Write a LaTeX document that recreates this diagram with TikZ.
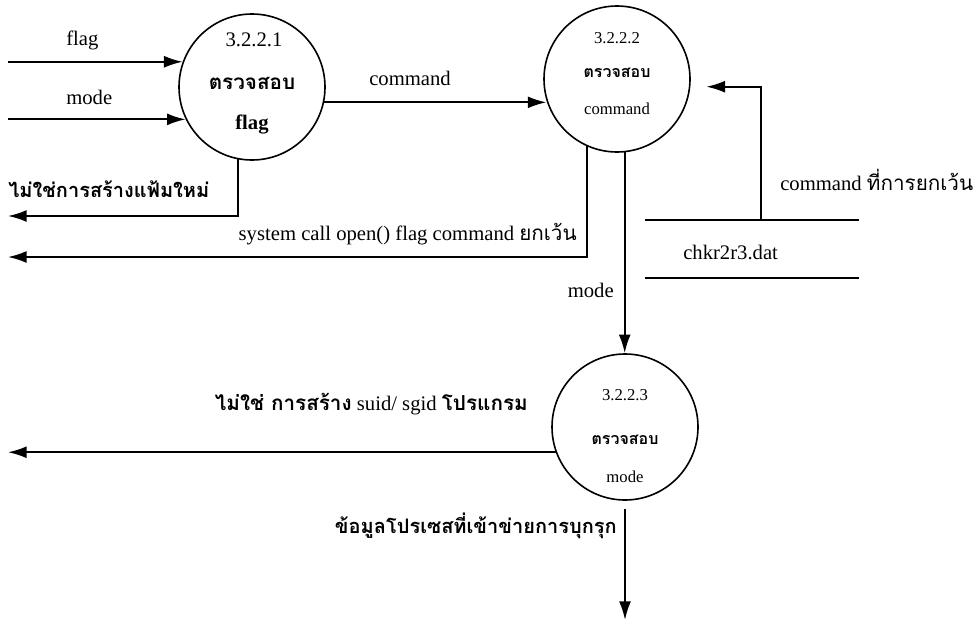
\documentclass[tikz,border=0pt]{standalone}
\usepackage{fontspec}
\setmainfont{Liberation Serif}
\newfontfamily\thaifont[Script=Thai]{Loma}
\usetikzlibrary{arrows.meta}
\begin{document}
\begin{tikzpicture}[x=0.75pt,y=-0.75pt,
  proc/.style={circle,draw,line width=1.2pt,minimum size=109.5pt,inner sep=0pt},
  flow/.style={line width=1.5pt,-{Latex[length=14pt,width=9pt]}},
  store/.style={line width=1.4pt},
  lbl/.style={font=\fontsize{15.5}{18}\selectfont,inner sep=0pt},
  small/.style={font=\fontsize{12.5}{15}\selectfont,inner sep=0pt},
  thlbl/.style={font=\thaifont\bfseries\fontsize{15}{18}\selectfont,inner sep=0pt},
  thbig/.style={font=\thaifont\bfseries\fontsize{15.5}{18}\selectfont,inner sep=0pt},
  thsmall/.style={font=\thaifont\bfseries\fontsize{12}{15}\selectfont,inner sep=0pt}]
\useasboundingbox (0,0) rectangle (978,625);

% processes
\node[proc] (P1) at (252,87) {};
\node[lbl] (P1n) at (254,40) {3.2.2.1};
\node[thbig] (P1t) at (252,83) {ตรวจสอบ};
\node[lbl,font=\bfseries\fontsize{15.5}{18}\selectfont] (P1s) at (252,125) {flag};

\node[proc] (P2) at (617,79) {};
\node[small] (P2n) at (617,38) {3.2.2.2};
\node[thsmall] (P2t) at (617,73) {ตรวจสอบ};
\node[small] (P2s) at (617,109) {command};

\node[proc] (P3) at (625,427) {};
\node[small] (P3n) at (625,395) {3.2.2.3};
\node[thsmall] (P3t) at (625,440) {ตรวจสอบ};
\node[small] (P3s) at (625,477) {mode};

% free ends
\coordinate (L) at (8,0);
\coordinate (sink) at (625,620);
\coordinate (dsarrow) at (761,220);

% inputs to 3.2.2.1
\draw[flow] (P1.160 -| L) -- (P1.160);
\draw[flow] (P1.206 -| L) -- (P1.206);
\node[lbl,anchor=west] (flaglbl) at (66,40) {flag};
\node[lbl,anchor=west] (modelbl) at (66,97) {mode};

% 3.2.2.1 -> out
\draw[flow] (P1.259) |- (L |- 0,216);
\node[thlbl,anchor=west] (notnew) at (8,189) {ไม่ใช่การสร้างแฟ้มใหม่};

% 3.2.2.1 -> 3.2.2.2
\draw[flow] (P1.348) -- (P1.348 -| P2.197);
\node[lbl] (cmdlbl) at (410,78) {command};

% 3.2.2.2 -> out
\draw[flow] (P2.246.5) |- (L |- 0,257);
\node[lbl,anchor=east] (syscall) at (577,234) {system call open() flag command {\thaifont ยกเว้น}};

% 3.2.2.2 -> 3.2.2.3
\draw[flow] (P2.276.4) -- (P2.276.4 |- P3.north);
\node[lbl,anchor=east] (modelbl2) at (614,290) {mode};

% data store
\coordinate (dsA) at (645,220);
\coordinate (dsB) at (859,220);
\coordinate (dsC) at (645,278);
\coordinate (dsD) at (859,278);
\draw[store] (dsA) -- (dsB);
\draw[store] (dsC) -- (dsD);
\node[lbl,anchor=west] (dsname) at (683,252) {chkr2r3.dat};
\draw[flow,shorten >=12pt] (dsarrow) |- (P2.354);
\node[lbl,anchor=west] (exlbl) at (780,180) {command {\thaifont ที่การยกเว้น}};

% 3.2.2.3 outputs
\draw[flow] (P3.200) -- (P3.200 -| L);
\node[lbl,anchor=east] (notsuid) at (528,404) {{\thaifont\bfseries ไม่ใช่ การสร้าง} suid/ sgid {\thaifont\bfseries โปรแกรม}};
\draw[flow,shorten <=6pt] (P3.south) -- (sink);
\node[thlbl,anchor=east] (intr) at (617,526) {ข้อมูลโปรเซสที่เข้าข่ายการบุกรุก};
\end{tikzpicture}
\end{document}
